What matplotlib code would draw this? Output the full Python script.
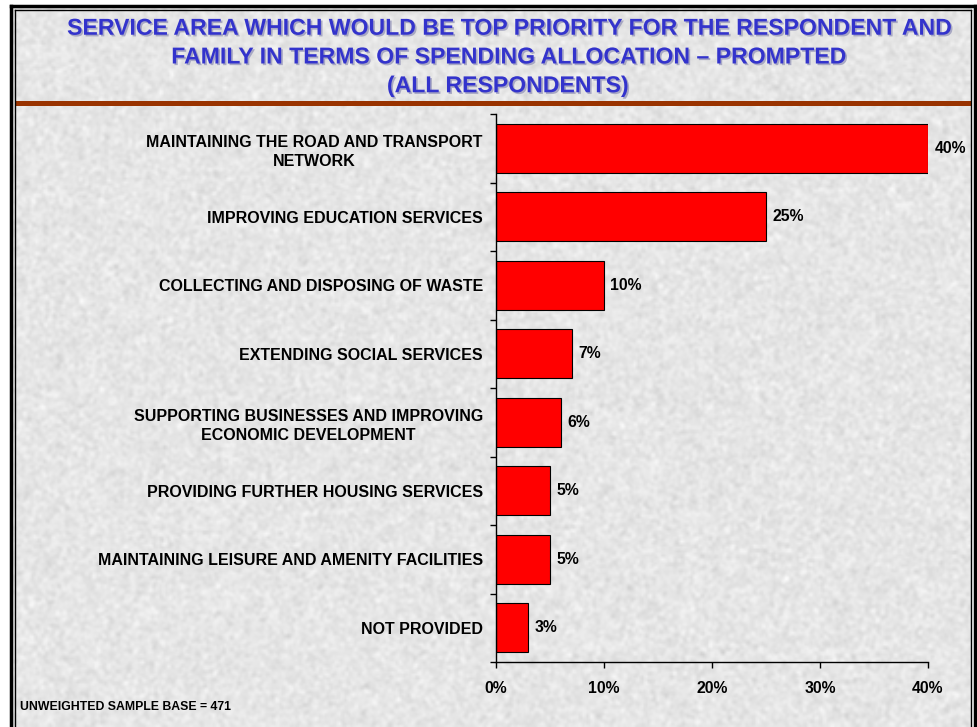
import numpy as np
import matplotlib
matplotlib.use('Agg')
import matplotlib.pyplot as plt
import matplotlib.patheffects as pe
from matplotlib.patches import Rectangle
from matplotlib.lines import Line2D


services = [
    'MAINTAINING THE ROAD AND TRANSPORT\nNETWORK',
    'IMPROVING EDUCATION SERVICES',
    'COLLECTING AND DISPOSING OF WASTE',
    'EXTENDING SOCIAL SERVICES',
    'SUPPORTING BUSINESSES AND IMPROVING\nECONOMIC DEVELOPMENT',
    'PROVIDING FURTHER HOUSING SERVICES',
    'MAINTAINING LEISURE AND AMENITY FACILITIES',
    'NOT PROVIDED',
]
percent = [40, 25, 10, 7, 6, 5, 5, 3]
x_ticks = [0, 10, 20, 30, 40]

title = ('SERVICE AREA WHICH WOULD BE TOP PRIORITY FOR THE RESPONDENT AND\n'
         'FAMILY IN TERMS OF SPENDING ALLOCATION \u2013 PROMPTED\n'
         '(ALL RESPONDENTS)')
base_note = 'UNWEIGHTED SAMPLE BASE = 471'

W, H = 977, 727
fig = plt.figure(figsize=(W / 100, H / 100), dpi=100)
fig.patch.set_facecolor('white')

# granite-like slide background inside the frame
rng = np.random.default_rng(7)
noise = rng.normal(0, 1, (H // 2, W // 2))
k = np.array([1, 2, 1]) / 4
noise = np.apply_along_axis(lambda r: np.convolve(r, k, 'same'), 1, noise)
noise = np.apply_along_axis(lambda c: np.convolve(c, k, 'same'), 0, noise)
tex = np.clip(0.9 + 0.05 * noise, 0.75, 1.0)
bg = fig.add_axes([12 / W, 0, 960 / W, 1 - 7 / H])
bg.imshow(tex, cmap='gray', vmin=0, vmax=1, aspect='auto', interpolation='bilinear')
bg.axis('off')


def fx(px):
    return px / W


def fy(py):
    return 1 - py / H


# double frame around the slide
fig.add_artist(Line2D([fx(11), fx(11)], [fy(6), 0], color='black', lw=2.5))
fig.add_artist(Line2D([fx(11), fx(975)], [fy(6), fy(6)], color='black', lw=2.5))
fig.add_artist(Line2D([fx(975), fx(975)], [fy(6), 0], color='black', lw=2.5))
fig.add_artist(Line2D([fx(15), fx(15)], [fy(10), 0], color='black', lw=1))
fig.add_artist(Line2D([fx(15), fx(971)], [fy(10), fy(10)], color='black', lw=1))
fig.add_artist(Line2D([fx(971), fx(971)], [fy(10), 0], color='black', lw=1))

# brown rule under the heading
fig.add_artist(Rectangle((fx(15), fy(106)), fx(957), 5 / H, color='#993300', lw=0))

fig.text(fx(507), fy(57), title, ha='center', va='center', color='#3333cc',
         family='Liberation Sans', fontsize=16.6, fontweight='bold',
         linespacing=1.32,
         path_effects=[pe.withSimplePatchShadow(offset=(1.2, -1.2),
                                                shadow_rgbFace='#9999bb', alpha=0.8)])

fig.text(fx(20), fy(707), base_note, ha='left', va='center',
         family='Liberation Sans', fontsize=8.8, fontweight='bold')

ax = fig.add_axes([496 / W, 1 - 662 / H, 432 / W, (662 - 114) / H])
ax.set_facecolor('none')
pos = np.arange(len(services))
ax.barh(pos, percent, height=0.72, color='#ff0000', edgecolor='black', linewidth=0.8)
for y, v in zip(pos, percent):
    ax.text(v + 0.6, y, f'{v}%', va='center', ha='left',
            family='Liberation Sans', fontsize=11.3, fontweight='bold')

ax.set_xlim(0, 40)
ax.set_ylim(len(services) - 0.5, -0.5)
ax.set_xticks(x_ticks)
ax.set_xticklabels([f'{t}%' for t in x_ticks], family='Liberation Sans',
                   fontsize=11.3, fontweight='bold')
ax.set_yticks(pos)
ax.set_yticklabels(services, family='Liberation Sans', fontsize=11.5,
                   fontweight='bold', multialignment='center', linespacing=1.35)
ax.set_yticks(np.arange(len(services) + 1) - 0.5, minor=True)
ax.tick_params(axis='y', which='major', length=0, pad=9.5)
ax.tick_params(axis='y', which='minor', length=4, width=1, direction='out')
ax.tick_params(axis='x', length=4, width=1, direction='out', pad=10)
for s in ['top', 'right']:
    ax.spines[s].set_visible(False)
ax.spines['left'].set_linewidth(1)
ax.spines['bottom'].set_linewidth(1)

fig.savefig('out.png', dpi=100)
